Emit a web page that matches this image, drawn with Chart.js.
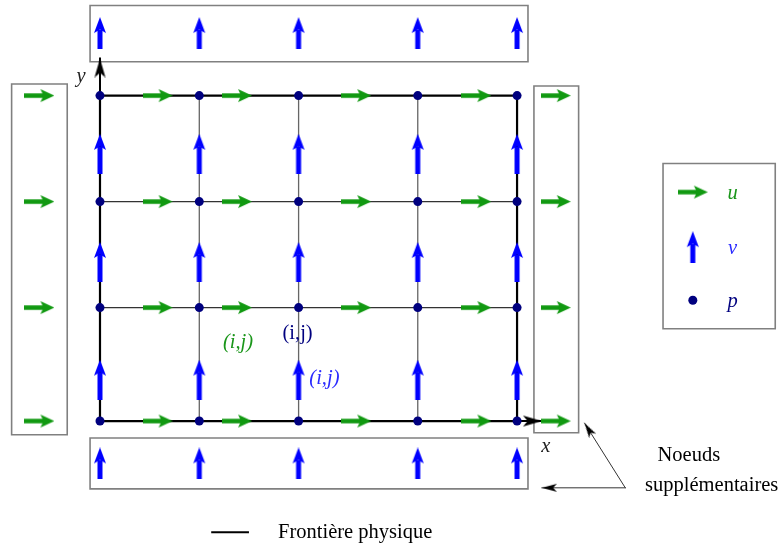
<!DOCTYPE html>
<html>
<head>
<meta charset="utf-8">
<script src="https://cdn.jsdelivr.net/npm/chart.js@4/dist/chart.umd.min.js"></script>
<style>
  html, body { margin: 0; padding: 0; background: #ffffff; }
  #wrap { width: 781px; height: 544px; }
</style>
</head>
<body>
<div id="wrap"><canvas id="c" width="781" height="544"></canvas></div>
<script>
// ---------- data (diagram units: x = cell index along x, y = cell index along y) ----------
const xNodes = [0, 1, 2, 3.2, 4.2];            // pressure node columns
const yNodes = [0, 1.07, 2.07, 3.07];          // pressure node rows
const uColumns = [-0.61, 0.58, 1.38, 2.58, 3.79, 4.59]; // u-velocity positions (incl. extra nodes)
const vRowsInner = [0.39, 1.5, 2.52];          // v-velocity positions inside the domain
const vRowsExtra = [-0.40, 3.66];              // v-velocity extra nodes (bottom, top)
const extraBoxes = [                            // [xMin, xMax, yMin, yMax]
  [-0.10, 4.31, 3.39, 3.92],
  [-0.10, 4.31, -0.64, -0.16],
  [-0.89, -0.33, -0.13, 3.18],
  [4.37, 4.82, -0.11, 3.16]
];
const legendBox = [5.67, 6.80, 0.87, 2.43];
const legendSymbols = ['u', 'v', 'p'];
const legendRows = [2.16, 1.64, 1.14];
const legendSymbolX = 5.97;
const legendLabelX = 6.37;
const axisTips = { y: [0, 3.42], x: [4.45, 0] };
const pointerFrom = [5.29, -0.63];
const pointerTips = [[4.88, -0.02], [4.45, -0.63]];
const boundaryLegendLine = [[1.13, -1.05], [1.49, -1.05]];
const texts = [
  { t: 'y', x: -0.19, y: 3.25, c: '#222222', f: 'italic 20.5px "Liberation Serif"' },
  { t: 'x', x: 4.49, y: -0.245, c: '#222222', f: 'italic 20.5px "Liberation Serif"' },
  { t: '(i,j)', x: 1.39, y: 0.74, c: '#1a961a', f: 'italic 20.5px "Liberation Serif"' },
  { t: '(i,j)', x: 1.99, y: 0.825, c: '#00007f', f: '20.5px "Liberation Serif"' },
  { t: '(i,j)', x: 2.26, y: 0.40, c: '#2b2bff', f: 'italic 20.5px "Liberation Serif"' },
  { t: 'Noeuds', x: 5.93, y: -0.33, c: '#000000', f: '20.5px "Liberation Serif"' },
  { t: 'supplémentaires', x: 6.16, y: -0.605, c: '#000000', f: '20.5px "Liberation Serif"' },
  { t: 'Frontière physique', x: 2.57, y: -1.05, c: '#000000', f: '20.5px "Liberation Serif"' }
];
const legendLabelColors = ['#1a961a', '#2b2bff', '#00007f'];

// ---------- styles ----------
const GREEN = '#119911';
const BLUE = '#0000ff';
const NAVY = '#00007f';
const GRAY = '#808080';

function arrowImage(color, len, shaftW, headL, headW) {
  const c = document.createElement('canvas');
  c.width = len; c.height = Math.ceil(headW) + 2;
  const g = c.getContext('2d');
  const cy = c.height / 2;
  g.fillStyle = color;
  g.fillRect(0, cy - shaftW / 2, len - headL + 3, shaftW);
  g.beginPath();
  g.moveTo(len, cy);
  g.lineTo(len - headL, cy - headW / 2);
  g.lineTo(len - headL + headL * 0.22, cy);
  g.lineTo(len - headL, cy + headW / 2);
  g.closePath();
  g.fill();
  return c;
}
function headImage(color, headL, headW) {
  const c = document.createElement('canvas');
  c.width = Math.ceil(headL * 2); c.height = Math.ceil(headW) + 2;
  const g = c.getContext('2d');
  const cy = c.height / 2;
  g.fillStyle = color;
  g.beginPath();
  g.moveTo(headL, cy);
  g.lineTo(0, cy - headW / 2);
  g.lineTo(headL * 0.25, cy);
  g.lineTo(0, cy + headW / 2);
  g.closePath();
  g.fill();
  return c;
}
const uArrow = arrowImage(GREEN, 30, 4.5, 14, 13);
const vArrowShort = arrowImage(BLUE, 32, 5, 16, 12);
const vArrowLong = arrowImage(BLUE, 40, 5, 16, 12);
const axisHead = headImage('#000000', 19, 11);
const pointerHead = headImage('#000000', 15, 8);

// ---------- build datasets from arrays ----------
const grid = (xs, ys) => xs.flatMap(x => ys.map(y => ({ x, y })));
const GAP = { x: null, y: null };
const rect = b => [{ x: b[0], y: b[2] }, { x: b[1], y: b[2] }, { x: b[1], y: b[3] }, { x: b[0], y: b[3] }, { x: b[0], y: b[2] }];

const xMin = xNodes[0], xMax = xNodes[xNodes.length - 1];
const yMin = yNodes[0], yMax = yNodes[yNodes.length - 1];
const boundary = rect([xMin, xMax, yMin, yMax]);
const innerV = xNodes.slice(1, -1).flatMap(x => [{ x, y: yMin }, { x, y: yMax }, GAP]);
const innerH = yNodes.slice(1, -1).flatMap(y => [{ x: xMin, y }, { x: xMax, y }, GAP]);
const boxLines = extraBoxes.concat([legendBox]).flatMap(b => rect(b).concat([GAP]));
const axisLines = [{ x: xMin, y: yMax }, { x: axisTips.y[0], y: axisTips.y[1] }, GAP,
                   { x: xMax, y: yMin }, { x: axisTips.x[0], y: axisTips.x[1] }];
const pointerLines = pointerTips.flatMap(t => [{ x: pointerFrom[0], y: pointerFrom[1] }, { x: t[0], y: t[1] }, GAP]);

function lineDS(data, color, width, order) {
  return { type: 'scatter', data, showLine: true, borderColor: color, borderWidth: width,
           pointRadius: 0, spanGaps: false, order, borderCapStyle: 'square', borderJoinStyle: 'miter' };
}
function pointDS(data, style, rotation, order) {
  return { type: 'scatter', data, showLine: false, pointStyle: style, pointRotation: rotation,
           pointRadius: 10, order, borderWidth: 0 };
}

const legendIdx = legendSymbols.map((s, i) => ({ x: legendSymbolX, y: legendRows[i] }));

const datasets = [
  // pressure nodes (top)
  { type: 'scatter', data: grid(xNodes, yNodes).concat([legendIdx[2]]), pointStyle: 'circle', pointRadius: 4.5,
    backgroundColor: NAVY, borderColor: NAVY, borderWidth: 0, order: 0 },
  pointDS(grid(uColumns, yNodes).concat([legendIdx[0]]), uArrow, 0, 1),
  pointDS(grid(xNodes, vRowsInner), vArrowLong, -90, 1),
  pointDS(grid(xNodes, vRowsExtra).concat([legendIdx[1]]), vArrowShort, -90, 1),
  pointDS([{ x: axisTips.y[0], y: axisTips.y[1] }, { x: axisTips.x[0], y: axisTips.x[1] }], axisHead,
          ctx => (ctx.dataIndex === 0 ? -90 : 0), 2),
  pointDS(pointerTips.map(t => ({ x: t[0], y: t[1] })), pointerHead, ctx => {
      const ch = ctx.chart, sx = ch.scales.x, sy = ch.scales.y;
      const t = pointerTips[ctx.dataIndex];
      const dx = sx.getPixelForValue(t[0]) - sx.getPixelForValue(pointerFrom[0]);
      const dy = sy.getPixelForValue(t[1]) - sy.getPixelForValue(pointerFrom[1]);
      return Math.atan2(dy, dx) * 180 / Math.PI;
    }, 2),
  lineDS(axisLines, '#000000', 2, 5),
  lineDS(boundary, '#000000', 2.2, 6),
  lineDS(innerH, '#333333', 1.3, 7),
  lineDS(innerV, '#666666', 1.3, 7),
  lineDS(boxLines, GRAY, 1.6, 8),
  lineDS(pointerLines, '#333333', 1, 8),
  lineDS(boundaryLegendLine.map(p => ({ x: p[0], y: p[1] })), '#000000', 2, 8)
];

const textPlugin = {
  id: 'diagramText',
  afterDatasetsDraw(chart) {
    const g = chart.ctx, sx = chart.scales.x, sy = chart.scales.y;
    g.save();
    g.textAlign = 'center';
    g.textBaseline = 'middle';
    const all = texts.concat(legendSymbols.map((s, i) => ({
      t: s, x: legendLabelX, y: legendRows[i] - 0.015, c: legendLabelColors[i], f: 'italic 20.5px "Liberation Serif"' })));
    all.forEach(o => {
      g.font = o.f;
      g.fillStyle = o.c;
      g.fillText(o.t, sx.getPixelForValue(o.x), sy.getPixelForValue(o.y));
    });
    g.restore();
  }
};

new Chart(document.getElementById('c'), {
  type: 'scatter',
  data: { datasets },
  options: {
    responsive: false,
    animation: false,
    events: [],
    layout: { padding: 0, autoPadding: false },
    plugins: { legend: { display: false }, tooltip: { enabled: false } },
    scales: {
      x: { type: 'linear', display: false, min: -1.007, max: 6.858 },
      y: { type: 'linear', display: false, min: -1.160, max: 3.972 }
    }
  },
  plugins: [textPlugin]
});
</script>
</body>
</html>
